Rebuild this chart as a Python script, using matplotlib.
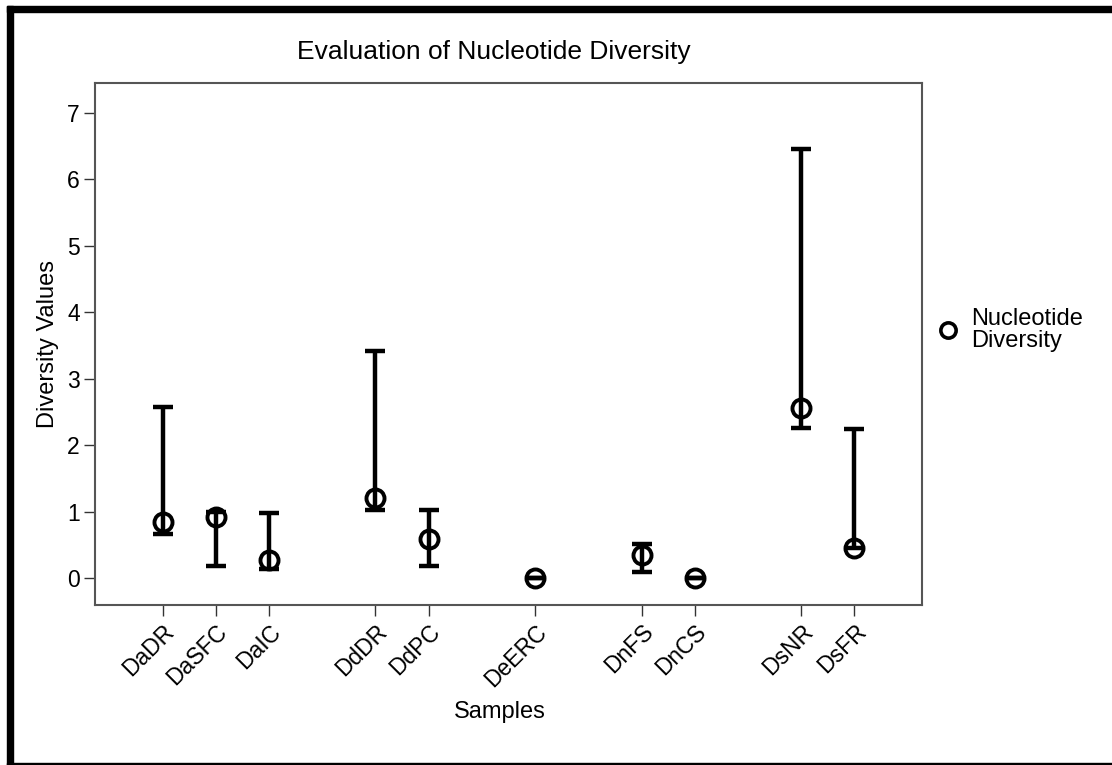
import matplotlib
matplotlib.use("Agg")
from matplotlib import pyplot as plt
from matplotlib.patches import Rectangle
from matplotlib.lines import Line2D
import numpy as np

plt.rcParams['font.family'] = ['Liberation Sans', 'DejaVu Sans']

# Sample names, with gaps between genera (None = empty slot)
samples = ["DaDR", "DaSFC", "DaIC", None, "DdDR", "DdPC", None, "DeERC", None,
           "DnFS", "DnCS", None, "DsNR", "DsFR"]
# Nucleotide diversity (mean) and error-bar ends
means = [0.85, 0.92, 0.28, None, 1.21, 0.59, None, 0.0, None, 0.35, 0.0, None, 2.57, 0.46]
upper = [2.58, 1.00, 0.98, None, 3.42, 1.03, None, 0.0, None, 0.52, 0.0, None, 6.45, 2.25]
lower = [0.67, 0.19, 0.14, None, 1.03, 0.18, None, 0.0, None, 0.09, 0.0, None, 2.26, 0.46]

pos = [i for i, s in enumerate(samples) if s is not None]
names = [samples[i] for i in pos]
m = np.array([means[i] for i in pos])
up = np.array([upper[i] for i in pos])
lo = np.array([lower[i] for i in pos])

fig = plt.figure(figsize=(11.12, 7.65), dpi=100)
ax = fig.add_axes([95 / 1112, 1 - 605 / 765, (922 - 95) / 1112, (605 - 83) / 765])

ax.errorbar(pos, m, yerr=[m - lo, up - m], fmt='none', ecolor='black',
            elinewidth=3.2, capsize=7, capthick=3.2, zorder=2)
ax.plot(pos, m, 'o', ms=13, mfc='none', mec='black', mew=2.8, zorder=3)

ax.set_xlim(-1.27, 14.27)
ax.set_ylim(-0.40, 7.45)
ax.set_xticks(pos)
ax.set_xticklabels(names, rotation=45, ha='right', rotation_mode='anchor', fontsize=16.5)
ax.set_yticks(range(0, 8))
ax.tick_params(axis='both', direction='out', length=8, width=1, color='#333333',
               labelsize=16.5, pad=3)
for sp in ax.spines.values():
    sp.set_color('#555555')
    sp.set_linewidth(1.5)

ax.set_xlabel("Samples", fontsize=17)
ax.set_ylabel("Diversity Values", fontsize=17)
ax.xaxis.set_label_coords(0.49, -0.183)
ax.yaxis.set_label_coords(-0.044, 0.5)
fig.text(494 / 1112, 1 - 52 / 765, "Evaluation of Nucleotide Diversity",
         ha='center', va='center', fontsize=19)

# legend
fig.lines.append(Line2D([948 / 1112], [1 - 330 / 765], marker='o', ms=11,
                        mfc='none', mec='black', mew=2.6, transform=fig.transFigure))
fig.text(971 / 1112, 1 - 330 / 765, "Nucleotide\nDiversity", ha='left',
         va='center', fontsize=17, linespacing=1.0)

# black frame around the picture
fig.patches.append(Rectangle((7 / 1112, 0), 6 / 1112, 1 - 6 / 765, transform=fig.transFigure,
                             color='black', zorder=10))
fig.patches.append(Rectangle((7 / 1112, 1 - 12 / 765), 1 - 7 / 1112, 6 / 765,
                             transform=fig.transFigure, color='black', zorder=10))
fig.patches.append(Rectangle((7 / 1112, 0), 1 - 7 / 1112, 2 / 765,
                             transform=fig.transFigure, color='black', zorder=10))

fig.savefig("out.png", dpi=100)
